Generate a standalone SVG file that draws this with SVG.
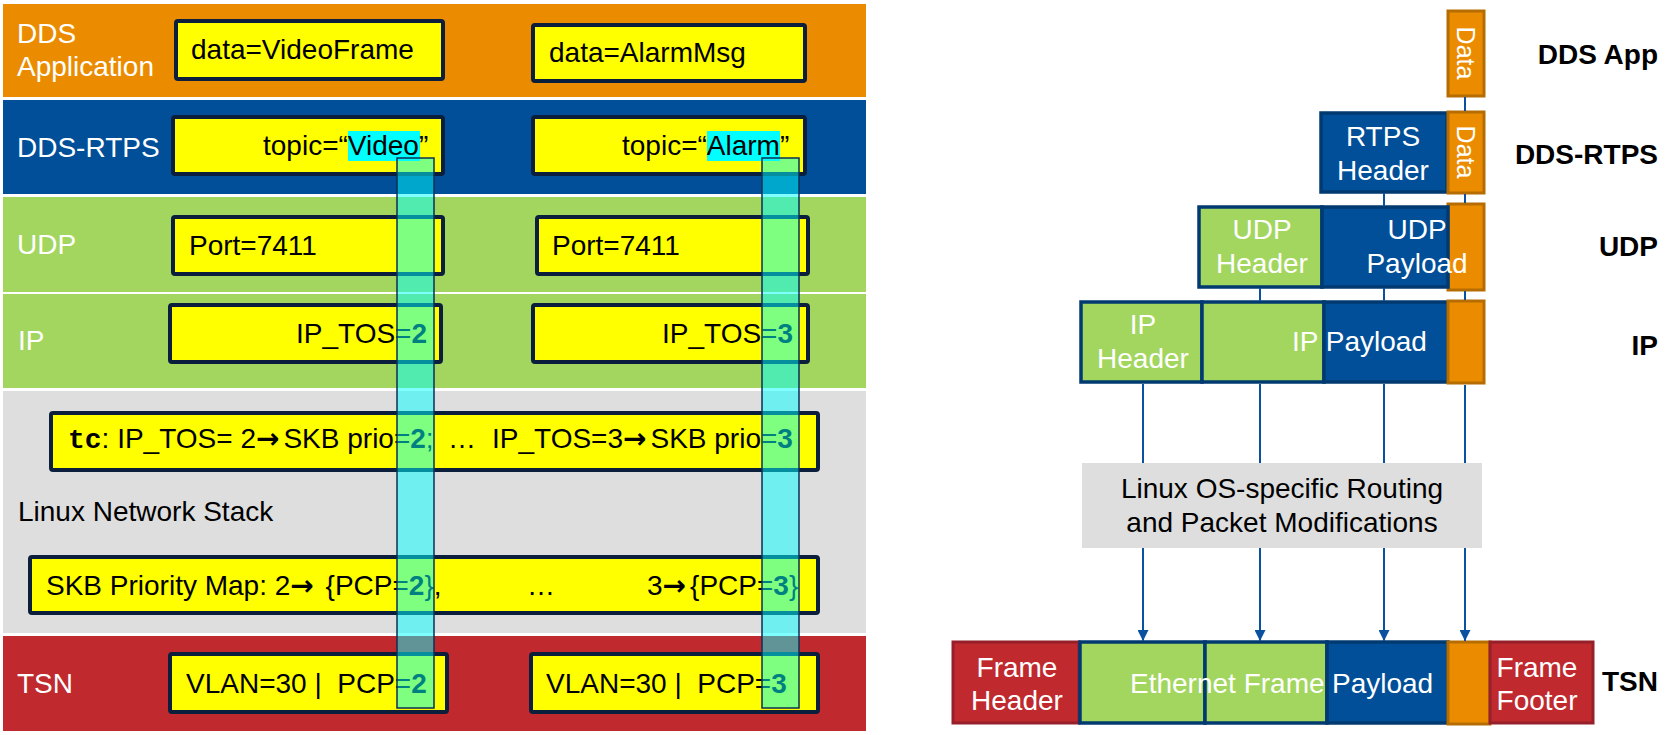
<svg xmlns="http://www.w3.org/2000/svg" width="1665" height="735" viewBox="0 0 1665 735">
<defs>
<style>
text{font-family:"Liberation Sans",Arial,Helvetica,sans-serif;font-size:28px;fill:#000}
.w{fill:#fff}
.b{font-weight:bold}
.mono{font-family:"Liberation Mono","Courier New",monospace;font-weight:bold}
.ar{font-family:"DejaVu Sans",sans-serif;font-weight:bold}
.ybox{fill:#FFFF00;stroke:#0B1F3D;stroke-width:4}
.hl{fill:#00FFFF}
.bar{fill:#00FFFF;fill-opacity:0.5;stroke:#0B2F55;stroke-width:1.5}
.or{fill:#EB8C00;stroke:#B56C00;stroke-width:3}
.bl{fill:#004F98;stroke:#003A70;stroke-width:3.5}
.gr{fill:#A2D65E;stroke:#003A70;stroke-width:3.5}
.rd{fill:#C0292E;stroke:#95202A;stroke-width:3}
.conn{stroke:#0A52A0;stroke-width:2;fill:none}
.mid{text-anchor:middle}
.end{text-anchor:end}
.dt{font-size:25px}
</style>
<marker id="arr" markerUnits="userSpaceOnUse" markerWidth="12" markerHeight="11" refX="11" refY="5.5" orient="auto"><path d="M0,0 L11,5.5 L0,11 z" fill="#0A52A0"/></marker>
</defs>
<rect width="1665" height="735" fill="#fff"/>

<!-- Left panel bands -->
<g id="band-app"><rect x="3" y="4" width="863" height="93" fill="#EB8C00"/><text class="w" x="17" y="43">DDS</text><text class="w" x="17" y="76">Application</text></g>
<g id="band-rtps"><rect x="3" y="100" width="863" height="94" fill="#004F98"/><text class="w" x="17" y="157">DDS-RTPS</text></g>
<g id="band-udp"><rect x="3" y="197" width="863" height="95" fill="#A2D65E"/><text class="w" x="17" y="254">UDP</text></g>
<g id="band-ip"><rect x="3" y="294" width="863" height="94" fill="#A2D65E"/><text class="w" x="18" y="350">IP</text></g>
<g id="band-linux"><rect x="3" y="391" width="863" height="242" fill="#DEDEDE"/><text x="18" y="521">Linux Network Stack</text></g>
<g id="band-tsn"><rect x="3" y="636" width="863" height="95" fill="#C0292E"/><text class="w" x="17" y="693">TSN</text></g>

<!-- Left panel boxes -->
<g id="box-video-data"><rect class="ybox" x="176" y="21" width="267" height="58" rx="2"/><text x="191" y="59">data=VideoFrame</text></g>
<g id="box-alarm-data"><rect class="ybox" x="533" y="25" width="272" height="56" rx="2"/><text x="549" y="62">data=AlarmMsg</text></g>
<g id="box-video-topic"><rect class="ybox" x="173" y="117" width="270" height="57" rx="2"/><rect class="hl" x="348" y="131" width="72" height="30"/><text x="263" y="155">topic=“Video”</text></g>
<g id="box-alarm-topic"><rect class="ybox" x="533" y="117" width="272" height="57" rx="2"/><rect class="hl" x="707" y="131" width="73" height="30"/><text x="622" y="155">topic=“Alarm”</text></g>
<g id="box-video-port"><rect class="ybox" x="173" y="217" width="270" height="57" rx="2"/><text x="189" y="255">Port=7411</text></g>
<g id="box-alarm-port"><rect class="ybox" x="537" y="217" width="271" height="57" rx="2"/><text x="552" y="255">Port=7411</text></g>
<g id="box-video-ip"><rect class="ybox" x="170" y="305" width="271" height="57" rx="2"/><text x="296" y="343">IP_TOS=<tspan class="b">2</tspan></text></g>
<g id="box-alarm-ip"><rect class="ybox" x="533" y="305" width="275" height="57" rx="2"/><text x="662" y="343">IP_TOS=<tspan class="b">3</tspan></text></g>
<g id="box-tc"><rect class="ybox" x="51" y="413" width="767" height="57" rx="2"/><text x="68" y="448"><tspan class="mono">tc</tspan>: IP_TOS= 2<tspan class="ar">→</tspan><tspan dx="4">SKB prio=</tspan><tspan class="b">2</tspan>;</text><text x="448" y="448">…</text><text x="492" y="448">IP_TOS=3<tspan class="ar">→</tspan><tspan dx="4">SKB prio=</tspan><tspan class="b">3</tspan></text></g>
<g id="box-skb"><rect class="ybox" x="30" y="557" width="788" height="56" rx="2"/><text x="46" y="595">SKB Priority Map: 2<tspan class="ar">→</tspan><tspan dx="4"> {PCP=</tspan><tspan class="b">2</tspan>},</text><text x="527" y="595">…</text><text x="647" y="595">3<tspan class="ar">→</tspan><tspan dx="4">{PCP=</tspan><tspan class="b">3</tspan>}</text></g>
<g id="box-video-vlan"><rect class="ybox" x="170" y="654" width="277" height="58" rx="2"/><text x="186" y="693" xml:space="preserve">VLAN=30 |  PCP=<tspan class="b">2</tspan></text></g>
<g id="box-alarm-vlan"><rect class="ybox" x="531" y="654" width="287" height="58" rx="2"/><text x="546" y="693" xml:space="preserve">VLAN=30 |  PCP=<tspan class="b">3</tspan></text></g>

<!-- Overlay bars -->
<g id="bar-video"><rect class="bar" x="397" y="158" width="37" height="550"/></g>
<g id="bar-alarm"><rect class="bar" x="762" y="158" width="37" height="550"/></g>

<!-- Right panel: packet nodes -->
<g id="app-data"><rect class="or" x="1448" y="11" width="36" height="85"/><text class="w dt mid" transform="translate(1466,53) rotate(90)" y="9">Data</text></g>
<g id="rtps-header"><rect class="bl" x="1321" y="113" width="126" height="79"/><text class="w mid" x="1383" y="146">RTPS</text><text class="w mid" x="1383" y="180">Header</text></g>
<g id="rtps-data"><rect class="or" x="1448" y="112" width="36" height="81"/><text class="w dt mid" transform="translate(1466,152) rotate(90)" y="9">Data</text></g>
<g id="udp-header"><rect class="gr" x="1199" y="207" width="123" height="80"/><text class="w mid" x="1262" y="239">UDP</text><text class="w mid" x="1262" y="273">Header</text></g>
<g id="udp-data"><rect class="or" x="1448" y="204" width="36" height="86"/></g>
<g id="udp-payload"><rect class="bl" x="1322" y="207" width="126" height="80"/><text class="w mid" x="1417" y="239">UDP</text><text class="w mid" x="1417" y="273">Payload</text></g>
<g id="ip-header"><rect class="gr" x="1081" y="302" width="121" height="80"/><text class="w mid" x="1143" y="334">IP</text><text class="w mid" x="1143" y="368">Header</text></g>
<g id="ip-payload"><rect class="gr" x="1202" y="302" width="122" height="80"/><rect class="bl" x="1324" y="302" width="124" height="80"/><text class="w" x="1292" y="351">IP Payload</text></g>
<g id="ip-data"><rect class="or" x="1448" y="301" width="36" height="82"/></g>
<g id="frame-header"><rect class="rd" x="953" y="642" width="126" height="81"/><text class="w mid" x="1017" y="677">Frame</text><text class="w mid" x="1017" y="710">Header</text></g>
<g id="ethernet-payload"><rect class="gr" x="1080" y="642" width="125" height="81"/><rect class="gr" x="1205" y="642" width="122" height="81"/><rect class="bl" x="1327" y="642" width="121" height="81"/><text class="w" x="1130" y="693">Ethernet Frame</text><text class="w" x="1332" y="693">Payload</text></g>
<g id="tsn-data"><rect class="or" x="1448" y="642" width="42" height="82"/></g>
<g id="frame-footer"><rect class="rd" x="1490" y="642" width="103" height="81"/><text class="w mid" x="1537" y="677">Frame</text><text class="w mid" x="1537" y="710">Footer</text></g>

<!-- Connectors -->
<g id="connectors">
<line class="conn" x1="1465" y1="97" x2="1465" y2="111"/>
<line class="conn" x1="1465" y1="194" x2="1465" y2="203"/>
<line class="conn" x1="1465" y1="291" x2="1465" y2="300"/>
<line class="conn" x1="1384" y1="193" x2="1384" y2="206"/>
<line class="conn" x1="1384" y1="288" x2="1384" y2="301"/>
<line class="conn" x1="1260" y1="288" x2="1260" y2="301"/>
<line class="conn" x1="1143" y1="384" x2="1143" y2="641" marker-end="url(#arr)"/>
<line class="conn" x1="1260" y1="384" x2="1260" y2="641" marker-end="url(#arr)"/>
<line class="conn" x1="1384" y1="384" x2="1384" y2="641" marker-end="url(#arr)"/>
<line class="conn" x1="1465" y1="385" x2="1465" y2="641" marker-end="url(#arr)"/>
</g>

<g id="linux-routing"><rect x="1082" y="463" width="400" height="85" fill="#DEDEDE"/><text class="mid" x="1282" y="498">Linux OS-specific Routing</text><text class="mid" x="1282" y="532">and Packet Modifications</text></g>

<!-- Layer labels -->
<g id="labels">
<text class="b end" x="1658" y="64">DDS App</text>
<text class="b end" x="1658" y="164">DDS-RTPS</text>
<text class="b end" x="1658" y="256">UDP</text>
<text class="b end" x="1658" y="355">IP</text>
<text class="b end" x="1658" y="691">TSN</text>
</g>
</svg>
